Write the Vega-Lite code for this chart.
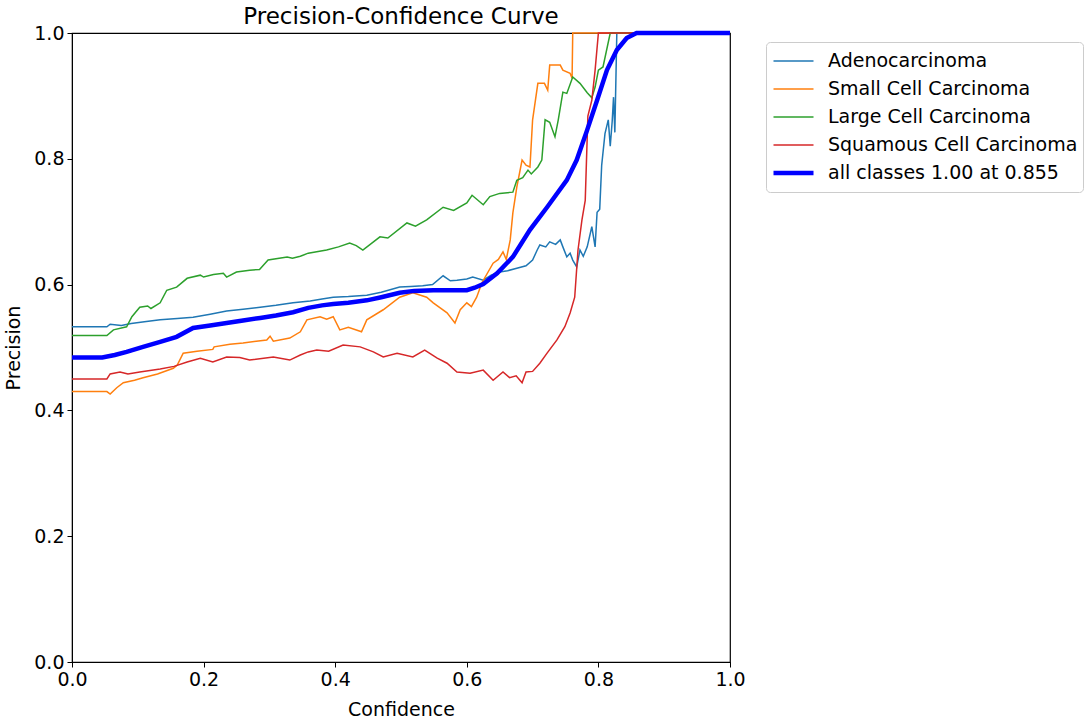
{
  "$schema": "https://vega.github.io/schema/vega-lite/v6.json",
  "width": 658,
  "height": 629,
  "autosize": {"type": "none"},
  "padding": {"left": 72, "top": 33, "right": 356, "bottom": 57},
  "background": "white",
  "title": {"text": "Precision-Confidence Curve", "fontSize": 23, "font": "DejaVu Sans", "fontWeight": "normal", "color": "black", "anchor": "middle", "offset": -5},
  "config": {
    "font": "DejaVu Sans",
    "view": {"stroke": "black", "strokeWidth": 1.2},
    "axis": {"grid": false, "domainColor": "black", "tickColor": "black", "tickSize": 5, "labelFontSize": 19, "labelColor": "black", "titleFontSize": 19, "titleFontWeight": "normal", "titleColor": "black", "labelPadding": 3, "titlePadding": 5, "labelFlush": false},
    "legend": {"orient": "none", "legendX": 694, "legendY": 9, "symbolType": "stroke", "symbolSize": 1600, "labelFontSize": 19, "labelColor": "black", "labelOffset": 12, "padding": 5, "strokeColor": "#cccccc", "fillColor": "white", "cornerRadius": 4, "rowPadding": 0, "clipHeight": 27.8, "labelLimit": 400}
  },
  "data": {"values": [
    {"series": "Adenocarcinoma", "c": 0, "p": 0.533},
    {"series": "Adenocarcinoma", "c": 0.053, "p": 0.533},
    {"series": "Adenocarcinoma", "c": 0.058, "p": 0.537},
    {"series": "Adenocarcinoma", "c": 0.075, "p": 0.535},
    {"series": "Adenocarcinoma", "c": 0.09, "p": 0.538},
    {"series": "Adenocarcinoma", "c": 0.11, "p": 0.541},
    {"series": "Adenocarcinoma", "c": 0.134, "p": 0.544},
    {"series": "Adenocarcinoma", "c": 0.16, "p": 0.546},
    {"series": "Adenocarcinoma", "c": 0.184, "p": 0.548},
    {"series": "Adenocarcinoma", "c": 0.21, "p": 0.553},
    {"series": "Adenocarcinoma", "c": 0.235, "p": 0.558},
    {"series": "Adenocarcinoma", "c": 0.26, "p": 0.561},
    {"series": "Adenocarcinoma", "c": 0.286, "p": 0.564},
    {"series": "Adenocarcinoma", "c": 0.31, "p": 0.567},
    {"series": "Adenocarcinoma", "c": 0.336, "p": 0.571},
    {"series": "Adenocarcinoma", "c": 0.362, "p": 0.574},
    {"series": "Adenocarcinoma", "c": 0.38, "p": 0.577},
    {"series": "Adenocarcinoma", "c": 0.397, "p": 0.58},
    {"series": "Adenocarcinoma", "c": 0.42, "p": 0.581},
    {"series": "Adenocarcinoma", "c": 0.448, "p": 0.583},
    {"series": "Adenocarcinoma", "c": 0.47, "p": 0.588},
    {"series": "Adenocarcinoma", "c": 0.498, "p": 0.596},
    {"series": "Adenocarcinoma", "c": 0.515, "p": 0.597},
    {"series": "Adenocarcinoma", "c": 0.533, "p": 0.598},
    {"series": "Adenocarcinoma", "c": 0.548, "p": 0.6},
    {"series": "Adenocarcinoma", "c": 0.564, "p": 0.614},
    {"series": "Adenocarcinoma", "c": 0.575, "p": 0.606},
    {"series": "Adenocarcinoma", "c": 0.585, "p": 0.607},
    {"series": "Adenocarcinoma", "c": 0.6, "p": 0.609},
    {"series": "Adenocarcinoma", "c": 0.609, "p": 0.612},
    {"series": "Adenocarcinoma", "c": 0.625, "p": 0.607},
    {"series": "Adenocarcinoma", "c": 0.637, "p": 0.615},
    {"series": "Adenocarcinoma", "c": 0.65, "p": 0.62},
    {"series": "Adenocarcinoma", "c": 0.662, "p": 0.622},
    {"series": "Adenocarcinoma", "c": 0.676, "p": 0.626},
    {"series": "Adenocarcinoma", "c": 0.69, "p": 0.63},
    {"series": "Adenocarcinoma", "c": 0.7, "p": 0.639},
    {"series": "Adenocarcinoma", "c": 0.707, "p": 0.655},
    {"series": "Adenocarcinoma", "c": 0.711, "p": 0.663},
    {"series": "Adenocarcinoma", "c": 0.72, "p": 0.66},
    {"series": "Adenocarcinoma", "c": 0.726, "p": 0.668},
    {"series": "Adenocarcinoma", "c": 0.735, "p": 0.664},
    {"series": "Adenocarcinoma", "c": 0.742, "p": 0.671},
    {"series": "Adenocarcinoma", "c": 0.746, "p": 0.66},
    {"series": "Adenocarcinoma", "c": 0.752, "p": 0.644},
    {"series": "Adenocarcinoma", "c": 0.757, "p": 0.65},
    {"series": "Adenocarcinoma", "c": 0.761, "p": 0.639},
    {"series": "Adenocarcinoma", "c": 0.767, "p": 0.628},
    {"series": "Adenocarcinoma", "c": 0.772, "p": 0.655},
    {"series": "Adenocarcinoma", "c": 0.777, "p": 0.645},
    {"series": "Adenocarcinoma", "c": 0.783, "p": 0.66},
    {"series": "Adenocarcinoma", "c": 0.79, "p": 0.692},
    {"series": "Adenocarcinoma", "c": 0.795, "p": 0.66},
    {"series": "Adenocarcinoma", "c": 0.798, "p": 0.715},
    {"series": "Adenocarcinoma", "c": 0.802, "p": 0.72},
    {"series": "Adenocarcinoma", "c": 0.805, "p": 0.79},
    {"series": "Adenocarcinoma", "c": 0.81, "p": 0.84},
    {"series": "Adenocarcinoma", "c": 0.815, "p": 0.862},
    {"series": "Adenocarcinoma", "c": 0.818, "p": 0.82},
    {"series": "Adenocarcinoma", "c": 0.821, "p": 0.86},
    {"series": "Adenocarcinoma", "c": 0.823, "p": 0.898},
    {"series": "Adenocarcinoma", "c": 0.825, "p": 0.842},
    {"series": "Adenocarcinoma", "c": 0.828, "p": 1.0},
    {"series": "Adenocarcinoma", "c": 1.0, "p": 1.0},

    {"series": "Small Cell Carcinoma", "c": 0, "p": 0.43},
    {"series": "Small Cell Carcinoma", "c": 0.053, "p": 0.43},
    {"series": "Small Cell Carcinoma", "c": 0.058, "p": 0.426},
    {"series": "Small Cell Carcinoma", "c": 0.068, "p": 0.436},
    {"series": "Small Cell Carcinoma", "c": 0.078, "p": 0.444},
    {"series": "Small Cell Carcinoma", "c": 0.095, "p": 0.448},
    {"series": "Small Cell Carcinoma", "c": 0.108, "p": 0.452},
    {"series": "Small Cell Carcinoma", "c": 0.13, "p": 0.458},
    {"series": "Small Cell Carcinoma", "c": 0.154, "p": 0.467},
    {"series": "Small Cell Carcinoma", "c": 0.16, "p": 0.472},
    {"series": "Small Cell Carcinoma", "c": 0.169, "p": 0.491},
    {"series": "Small Cell Carcinoma", "c": 0.19, "p": 0.494},
    {"series": "Small Cell Carcinoma", "c": 0.214, "p": 0.497},
    {"series": "Small Cell Carcinoma", "c": 0.216, "p": 0.501},
    {"series": "Small Cell Carcinoma", "c": 0.24, "p": 0.505},
    {"series": "Small Cell Carcinoma", "c": 0.26, "p": 0.507},
    {"series": "Small Cell Carcinoma", "c": 0.28, "p": 0.51},
    {"series": "Small Cell Carcinoma", "c": 0.296, "p": 0.512},
    {"series": "Small Cell Carcinoma", "c": 0.301, "p": 0.518},
    {"series": "Small Cell Carcinoma", "c": 0.306, "p": 0.51},
    {"series": "Small Cell Carcinoma", "c": 0.331, "p": 0.515},
    {"series": "Small Cell Carcinoma", "c": 0.347, "p": 0.525},
    {"series": "Small Cell Carcinoma", "c": 0.357, "p": 0.544},
    {"series": "Small Cell Carcinoma", "c": 0.377, "p": 0.549},
    {"series": "Small Cell Carcinoma", "c": 0.387, "p": 0.545},
    {"series": "Small Cell Carcinoma", "c": 0.397, "p": 0.549},
    {"series": "Small Cell Carcinoma", "c": 0.407, "p": 0.528},
    {"series": "Small Cell Carcinoma", "c": 0.42, "p": 0.532},
    {"series": "Small Cell Carcinoma", "c": 0.44, "p": 0.525},
    {"series": "Small Cell Carcinoma", "c": 0.448, "p": 0.544},
    {"series": "Small Cell Carcinoma", "c": 0.473, "p": 0.56},
    {"series": "Small Cell Carcinoma", "c": 0.498, "p": 0.58},
    {"series": "Small Cell Carcinoma", "c": 0.518, "p": 0.587},
    {"series": "Small Cell Carcinoma", "c": 0.539, "p": 0.58},
    {"series": "Small Cell Carcinoma", "c": 0.549, "p": 0.571},
    {"series": "Small Cell Carcinoma", "c": 0.57, "p": 0.555},
    {"series": "Small Cell Carcinoma", "c": 0.582, "p": 0.539},
    {"series": "Small Cell Carcinoma", "c": 0.59, "p": 0.56},
    {"series": "Small Cell Carcinoma", "c": 0.6, "p": 0.571},
    {"series": "Small Cell Carcinoma", "c": 0.607, "p": 0.565},
    {"series": "Small Cell Carcinoma", "c": 0.615, "p": 0.58},
    {"series": "Small Cell Carcinoma", "c": 0.623, "p": 0.603},
    {"series": "Small Cell Carcinoma", "c": 0.64, "p": 0.634},
    {"series": "Small Cell Carcinoma", "c": 0.648, "p": 0.64},
    {"series": "Small Cell Carcinoma", "c": 0.655, "p": 0.652},
    {"series": "Small Cell Carcinoma", "c": 0.66, "p": 0.64},
    {"series": "Small Cell Carcinoma", "c": 0.666, "p": 0.671},
    {"series": "Small Cell Carcinoma", "c": 0.67, "p": 0.714},
    {"series": "Small Cell Carcinoma", "c": 0.676, "p": 0.755},
    {"series": "Small Cell Carcinoma", "c": 0.684, "p": 0.798},
    {"series": "Small Cell Carcinoma", "c": 0.69, "p": 0.79},
    {"series": "Small Cell Carcinoma", "c": 0.696, "p": 0.787},
    {"series": "Small Cell Carcinoma", "c": 0.7, "p": 0.862},
    {"series": "Small Cell Carcinoma", "c": 0.708, "p": 0.92},
    {"series": "Small Cell Carcinoma", "c": 0.718, "p": 0.92},
    {"series": "Small Cell Carcinoma", "c": 0.723, "p": 0.909},
    {"series": "Small Cell Carcinoma", "c": 0.726, "p": 0.949},
    {"series": "Small Cell Carcinoma", "c": 0.742, "p": 0.949},
    {"series": "Small Cell Carcinoma", "c": 0.746, "p": 0.941},
    {"series": "Small Cell Carcinoma", "c": 0.757, "p": 0.936},
    {"series": "Small Cell Carcinoma", "c": 0.76, "p": 0.928},
    {"series": "Small Cell Carcinoma", "c": 0.761, "p": 1.0},
    {"series": "Small Cell Carcinoma", "c": 1.0, "p": 1.0},

    {"series": "Large Cell Carcinoma", "c": 0, "p": 0.519},
    {"series": "Large Cell Carcinoma", "c": 0.053, "p": 0.519},
    {"series": "Large Cell Carcinoma", "c": 0.063, "p": 0.528},
    {"series": "Large Cell Carcinoma", "c": 0.083, "p": 0.533},
    {"series": "Large Cell Carcinoma", "c": 0.091, "p": 0.549},
    {"series": "Large Cell Carcinoma", "c": 0.103, "p": 0.564},
    {"series": "Large Cell Carcinoma", "c": 0.115, "p": 0.566},
    {"series": "Large Cell Carcinoma", "c": 0.12, "p": 0.562},
    {"series": "Large Cell Carcinoma", "c": 0.134, "p": 0.571},
    {"series": "Large Cell Carcinoma", "c": 0.144, "p": 0.591},
    {"series": "Large Cell Carcinoma", "c": 0.159, "p": 0.596},
    {"series": "Large Cell Carcinoma", "c": 0.175, "p": 0.61},
    {"series": "Large Cell Carcinoma", "c": 0.195, "p": 0.615},
    {"series": "Large Cell Carcinoma", "c": 0.2, "p": 0.612},
    {"series": "Large Cell Carcinoma", "c": 0.215, "p": 0.616},
    {"series": "Large Cell Carcinoma", "c": 0.23, "p": 0.618},
    {"series": "Large Cell Carcinoma", "c": 0.235, "p": 0.612},
    {"series": "Large Cell Carcinoma", "c": 0.25, "p": 0.62},
    {"series": "Large Cell Carcinoma", "c": 0.27, "p": 0.623},
    {"series": "Large Cell Carcinoma", "c": 0.285, "p": 0.624},
    {"series": "Large Cell Carcinoma", "c": 0.298, "p": 0.639},
    {"series": "Large Cell Carcinoma", "c": 0.327, "p": 0.644},
    {"series": "Large Cell Carcinoma", "c": 0.335, "p": 0.642},
    {"series": "Large Cell Carcinoma", "c": 0.347, "p": 0.645},
    {"series": "Large Cell Carcinoma", "c": 0.359, "p": 0.65},
    {"series": "Large Cell Carcinoma", "c": 0.387, "p": 0.655},
    {"series": "Large Cell Carcinoma", "c": 0.405, "p": 0.66},
    {"series": "Large Cell Carcinoma", "c": 0.422, "p": 0.666},
    {"series": "Large Cell Carcinoma", "c": 0.432, "p": 0.662},
    {"series": "Large Cell Carcinoma", "c": 0.442, "p": 0.655},
    {"series": "Large Cell Carcinoma", "c": 0.468, "p": 0.676},
    {"series": "Large Cell Carcinoma", "c": 0.48, "p": 0.674},
    {"series": "Large Cell Carcinoma", "c": 0.509, "p": 0.698},
    {"series": "Large Cell Carcinoma", "c": 0.522, "p": 0.693},
    {"series": "Large Cell Carcinoma", "c": 0.539, "p": 0.703},
    {"series": "Large Cell Carcinoma", "c": 0.564, "p": 0.723},
    {"series": "Large Cell Carcinoma", "c": 0.58, "p": 0.718},
    {"series": "Large Cell Carcinoma", "c": 0.6, "p": 0.73},
    {"series": "Large Cell Carcinoma", "c": 0.608, "p": 0.742},
    {"series": "Large Cell Carcinoma", "c": 0.625, "p": 0.727},
    {"series": "Large Cell Carcinoma", "c": 0.635, "p": 0.74},
    {"series": "Large Cell Carcinoma", "c": 0.65, "p": 0.745},
    {"series": "Large Cell Carcinoma", "c": 0.67, "p": 0.747},
    {"series": "Large Cell Carcinoma", "c": 0.676, "p": 0.766},
    {"series": "Large Cell Carcinoma", "c": 0.685, "p": 0.77},
    {"series": "Large Cell Carcinoma", "c": 0.693, "p": 0.782},
    {"series": "Large Cell Carcinoma", "c": 0.698, "p": 0.776},
    {"series": "Large Cell Carcinoma", "c": 0.708, "p": 0.787},
    {"series": "Large Cell Carcinoma", "c": 0.714, "p": 0.798},
    {"series": "Large Cell Carcinoma", "c": 0.719, "p": 0.862},
    {"series": "Large Cell Carcinoma", "c": 0.726, "p": 0.858},
    {"series": "Large Cell Carcinoma", "c": 0.734, "p": 0.835},
    {"series": "Large Cell Carcinoma", "c": 0.739, "p": 0.862},
    {"series": "Large Cell Carcinoma", "c": 0.746, "p": 0.906},
    {"series": "Large Cell Carcinoma", "c": 0.752, "p": 0.904},
    {"series": "Large Cell Carcinoma", "c": 0.761, "p": 0.93},
    {"series": "Large Cell Carcinoma", "c": 0.772, "p": 0.92},
    {"series": "Large Cell Carcinoma", "c": 0.783, "p": 0.905},
    {"series": "Large Cell Carcinoma", "c": 0.79, "p": 0.897},
    {"series": "Large Cell Carcinoma", "c": 0.795, "p": 0.914},
    {"series": "Large Cell Carcinoma", "c": 0.8, "p": 0.941},
    {"series": "Large Cell Carcinoma", "c": 0.807, "p": 0.946},
    {"series": "Large Cell Carcinoma", "c": 0.818, "p": 1.0},
    {"series": "Large Cell Carcinoma", "c": 1.0, "p": 1.0},

    {"series": "Squamous Cell Carcinoma", "c": 0, "p": 0.45},
    {"series": "Squamous Cell Carcinoma", "c": 0.053, "p": 0.45},
    {"series": "Squamous Cell Carcinoma", "c": 0.058, "p": 0.458},
    {"series": "Squamous Cell Carcinoma", "c": 0.073, "p": 0.461},
    {"series": "Squamous Cell Carcinoma", "c": 0.085, "p": 0.458},
    {"series": "Squamous Cell Carcinoma", "c": 0.103, "p": 0.461},
    {"series": "Squamous Cell Carcinoma", "c": 0.134, "p": 0.466},
    {"series": "Squamous Cell Carcinoma", "c": 0.155, "p": 0.47},
    {"series": "Squamous Cell Carcinoma", "c": 0.175, "p": 0.477},
    {"series": "Squamous Cell Carcinoma", "c": 0.195, "p": 0.483},
    {"series": "Squamous Cell Carcinoma", "c": 0.214, "p": 0.477},
    {"series": "Squamous Cell Carcinoma", "c": 0.235, "p": 0.485},
    {"series": "Squamous Cell Carcinoma", "c": 0.255, "p": 0.484},
    {"series": "Squamous Cell Carcinoma", "c": 0.27, "p": 0.48},
    {"series": "Squamous Cell Carcinoma", "c": 0.306, "p": 0.485},
    {"series": "Squamous Cell Carcinoma", "c": 0.331, "p": 0.48},
    {"series": "Squamous Cell Carcinoma", "c": 0.347, "p": 0.488},
    {"series": "Squamous Cell Carcinoma", "c": 0.359, "p": 0.493},
    {"series": "Squamous Cell Carcinoma", "c": 0.372, "p": 0.496},
    {"series": "Squamous Cell Carcinoma", "c": 0.39, "p": 0.494},
    {"series": "Squamous Cell Carcinoma", "c": 0.412, "p": 0.504},
    {"series": "Squamous Cell Carcinoma", "c": 0.438, "p": 0.501},
    {"series": "Squamous Cell Carcinoma", "c": 0.458, "p": 0.493},
    {"series": "Squamous Cell Carcinoma", "c": 0.473, "p": 0.485},
    {"series": "Squamous Cell Carcinoma", "c": 0.494, "p": 0.491},
    {"series": "Squamous Cell Carcinoma", "c": 0.518, "p": 0.485},
    {"series": "Squamous Cell Carcinoma", "c": 0.536, "p": 0.496},
    {"series": "Squamous Cell Carcinoma", "c": 0.555, "p": 0.483},
    {"series": "Squamous Cell Carcinoma", "c": 0.57, "p": 0.475},
    {"series": "Squamous Cell Carcinoma", "c": 0.585, "p": 0.461},
    {"series": "Squamous Cell Carcinoma", "c": 0.605, "p": 0.459},
    {"series": "Squamous Cell Carcinoma", "c": 0.625, "p": 0.464},
    {"series": "Squamous Cell Carcinoma", "c": 0.64, "p": 0.448},
    {"series": "Squamous Cell Carcinoma", "c": 0.655, "p": 0.461},
    {"series": "Squamous Cell Carcinoma", "c": 0.665, "p": 0.452},
    {"series": "Squamous Cell Carcinoma", "c": 0.675, "p": 0.455},
    {"series": "Squamous Cell Carcinoma", "c": 0.684, "p": 0.444},
    {"series": "Squamous Cell Carcinoma", "c": 0.69, "p": 0.461},
    {"series": "Squamous Cell Carcinoma", "c": 0.7, "p": 0.462},
    {"series": "Squamous Cell Carcinoma", "c": 0.711, "p": 0.475},
    {"series": "Squamous Cell Carcinoma", "c": 0.722, "p": 0.491},
    {"series": "Squamous Cell Carcinoma", "c": 0.737, "p": 0.512},
    {"series": "Squamous Cell Carcinoma", "c": 0.749, "p": 0.533},
    {"series": "Squamous Cell Carcinoma", "c": 0.757, "p": 0.555},
    {"series": "Squamous Cell Carcinoma", "c": 0.764, "p": 0.58},
    {"series": "Squamous Cell Carcinoma", "c": 0.769, "p": 0.655},
    {"series": "Squamous Cell Carcinoma", "c": 0.775, "p": 0.703},
    {"series": "Squamous Cell Carcinoma", "c": 0.78, "p": 0.734},
    {"series": "Squamous Cell Carcinoma", "c": 0.784, "p": 0.868},
    {"series": "Squamous Cell Carcinoma", "c": 0.79, "p": 0.893},
    {"series": "Squamous Cell Carcinoma", "c": 0.795, "p": 0.941},
    {"series": "Squamous Cell Carcinoma", "c": 0.8, "p": 1.0},
    {"series": "Squamous Cell Carcinoma", "c": 1.0, "p": 1.0},

    {"series": "all classes 1.00 at 0.855", "c": 0, "p": 0.484},
    {"series": "all classes 1.00 at 0.855", "c": 0.046, "p": 0.484},
    {"series": "all classes 1.00 at 0.855", "c": 0.065, "p": 0.488},
    {"series": "all classes 1.00 at 0.855", "c": 0.083, "p": 0.493},
    {"series": "all classes 1.00 at 0.855", "c": 0.108, "p": 0.501},
    {"series": "all classes 1.00 at 0.855", "c": 0.134, "p": 0.509},
    {"series": "all classes 1.00 at 0.855", "c": 0.159, "p": 0.517},
    {"series": "all classes 1.00 at 0.855", "c": 0.184, "p": 0.531},
    {"series": "all classes 1.00 at 0.855", "c": 0.21, "p": 0.535},
    {"series": "all classes 1.00 at 0.855", "c": 0.235, "p": 0.539},
    {"series": "all classes 1.00 at 0.855", "c": 0.26, "p": 0.543},
    {"series": "all classes 1.00 at 0.855", "c": 0.286, "p": 0.547},
    {"series": "all classes 1.00 at 0.855", "c": 0.31, "p": 0.551},
    {"series": "all classes 1.00 at 0.855", "c": 0.336, "p": 0.556},
    {"series": "all classes 1.00 at 0.855", "c": 0.359, "p": 0.563},
    {"series": "all classes 1.00 at 0.855", "c": 0.38, "p": 0.567},
    {"series": "all classes 1.00 at 0.855", "c": 0.397, "p": 0.569},
    {"series": "all classes 1.00 at 0.855", "c": 0.42, "p": 0.571},
    {"series": "all classes 1.00 at 0.855", "c": 0.448, "p": 0.575},
    {"series": "all classes 1.00 at 0.855", "c": 0.47, "p": 0.58},
    {"series": "all classes 1.00 at 0.855", "c": 0.498, "p": 0.587},
    {"series": "all classes 1.00 at 0.855", "c": 0.52, "p": 0.59},
    {"series": "all classes 1.00 at 0.855", "c": 0.549, "p": 0.591},
    {"series": "all classes 1.00 at 0.855", "c": 0.575, "p": 0.591},
    {"series": "all classes 1.00 at 0.855", "c": 0.6, "p": 0.591},
    {"series": "all classes 1.00 at 0.855", "c": 0.612, "p": 0.595},
    {"series": "all classes 1.00 at 0.855", "c": 0.625, "p": 0.601},
    {"series": "all classes 1.00 at 0.855", "c": 0.646, "p": 0.618},
    {"series": "all classes 1.00 at 0.855", "c": 0.67, "p": 0.644},
    {"series": "all classes 1.00 at 0.855", "c": 0.696, "p": 0.687},
    {"series": "all classes 1.00 at 0.855", "c": 0.722, "p": 0.723},
    {"series": "all classes 1.00 at 0.855", "c": 0.752, "p": 0.766},
    {"series": "all classes 1.00 at 0.855", "c": 0.767, "p": 0.798},
    {"series": "all classes 1.00 at 0.855", "c": 0.783, "p": 0.846},
    {"series": "all classes 1.00 at 0.855", "c": 0.798, "p": 0.893},
    {"series": "all classes 1.00 at 0.855", "c": 0.813, "p": 0.941},
    {"series": "all classes 1.00 at 0.855", "c": 0.828, "p": 0.973},
    {"series": "all classes 1.00 at 0.855", "c": 0.843, "p": 0.992},
    {"series": "all classes 1.00 at 0.855", "c": 0.858, "p": 1.0},
    {"series": "all classes 1.00 at 0.855", "c": 1.0, "p": 1.0}
  ]},
  "encoding": {
    "x": {"field": "c", "type": "quantitative", "title": "Confidence", "scale": {"domain": [0, 1], "nice": false, "zero": false}, "axis": {"values": [0, 0.2, 0.4, 0.6, 0.8, 1.0], "format": ".1f", "titlePadding": 11}},
    "y": {"field": "p", "type": "quantitative", "title": "Precision", "scale": {"domain": [0, 1], "nice": false}, "axis": {"values": [0, 0.2, 0.4, 0.6, 0.8, 1.0], "format": ".1f", "titlePadding": 10}},
    "color": {"field": "series", "type": "nominal", "title": null, "scale": {"domain": ["Adenocarcinoma", "Small Cell Carcinoma", "Large Cell Carcinoma", "Squamous Cell Carcinoma", "all classes 1.00 at 0.855"], "range": ["#1f77b4", "#ff7f0e", "#2ca02c", "#d62728", "#0000ff"]}},
    "strokeWidth": {"field": "series", "type": "nominal", "title": null, "scale": {"type": "ordinal", "domain": ["Adenocarcinoma", "Small Cell Carcinoma", "Large Cell Carcinoma", "Squamous Cell Carcinoma", "all classes 1.00 at 0.855"], "range": [1.5, 1.5, 1.5, 1.5, 4.5]}}
  },
  "layer": [
    {"transform": [{"filter": "datum.series !== 'all classes 1.00 at 0.855'"}], "mark": {"type": "line", "interpolate": "linear"}},
    {"transform": [{"filter": "datum.series === 'all classes 1.00 at 0.855'"}], "mark": {"type": "line", "interpolate": "linear"}}
  ]
}
